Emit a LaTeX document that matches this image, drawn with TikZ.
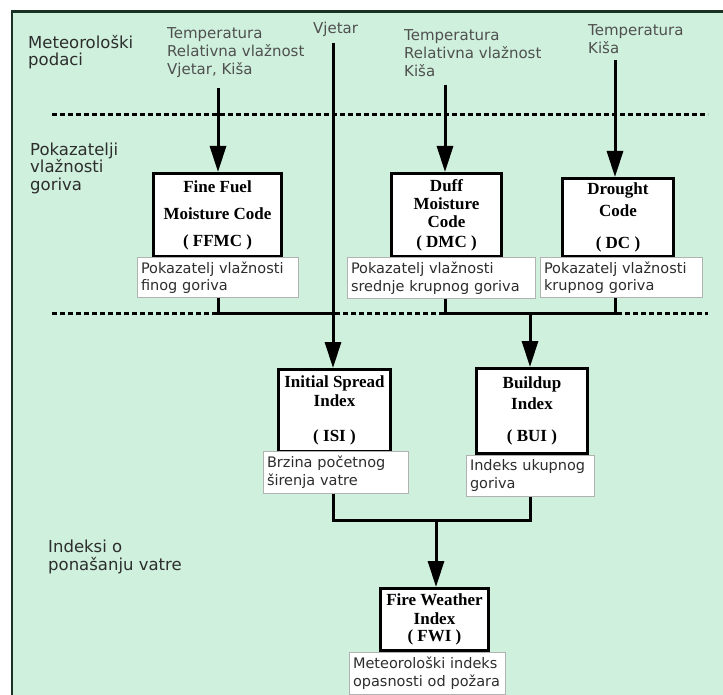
\documentclass[tikz,border=0pt]{standalone}
\usepackage{fontspec}
\setmainfont{DejaVu Sans}
\newfontfamily\boxfont{Liberation Serif}
\usetikzlibrary{arrows.meta, positioning}
\definecolor{bggreen}{RGB}{206,240,220}
\definecolor{framecol}{RGB}{25,50,35}
\definecolor{txtcol}{RGB}{45,45,45}
\definecolor{inputcol}{RGB}{80,80,80}

\tikzset{
  codebox/.style={draw, line width=3pt, fill=white, inner sep=0pt, align=center,
    font=\boxfont\bfseries\fontsize{17}{19}\selectfont,
    execute at begin node={\rule{0pt}{27pt}}},
  labelbox/.style={draw=gray!60, line width=1pt, fill=white, inner xsep=4pt, inner ysep=0pt,
    align=left, text=txtcol, font=\fontsize{14.5}{17.5}\selectfont},
  inputtext/.style={anchor=west, inner sep=0pt, align=left, text=inputcol,
    font=\fontsize{15}{18}\selectfont},
  sectiontext/.style={anchor=west, inner sep=0pt, align=left, text=txtcol,
    font=\fontsize{16.5}{17.5}\selectfont},
  link/.style={line width=3pt},
  arr/.style={line width=3pt, -{Triangle[length=26pt,width=16pt]}},
  sepline/.style={line width=3pt, dash pattern=on 5pt off 3pt}
}

\begin{document}
\begin{tikzpicture}[x=1pt, y=-1pt]
    \useasboundingbox (0,0) rectangle (723,695);
    % Background and frame
    \fill[bggreen] (11,11) rectangle (723,695);
    \draw[framecol, line width=2.5pt] (12,695) -- (12,11.5) -- (723,11.5);

    % Section titles
    \node[sectiontext] (meteo) at (28,52) {Meteorološki\\podaci};
    \node[sectiontext] (moist) at (30,168) {Pokazatelji\\vlažnosti\\goriva};
    \node[sectiontext] (behav) at (48,557) {Indeksi o\\ponašanju vatre};

    % Weather inputs
    \node[inputtext] (in1) at (167,53) {Temperatura\\Relativna vlažnost\\Vjetar, Kiša};
    \node[inputtext] (wind) at (313,29) {Vjetar};
    \node[inputtext] (in2) at (404,53) {Temperatura\\Relativna vlažnost\\Kiša};
    \node[inputtext] (in3) at (588,39) {Temperatura\\Kiša};

    % Separators
    \draw[sepline] (52,115) -- (708,115);
    \draw[sepline] (52,313) -- (218,313);
    \draw[sepline] (335,313) -- (445,313);
    \draw[sepline] (617,313) -- (708,313);

    % Codes and indices
    \node[codebox, minimum width=128pt, minimum height=83pt] (ffmc) at (217.5,215)
        {Fine Fuel\\[8pt]Moisture Code\\[8pt]( FFMC )};
    \node[codebox, minimum width=110pt, minimum height=83pt] (dmc) at (446.5,215)
        {Duff\\[-1pt]Moisture\\[-1pt]Code\\[1pt]( DMC )};
    \node[codebox, minimum width=111pt, minimum height=78pt] (dc) at (618,217.5)
        {Drought\\[3pt]Code\\[13pt]( DC )};
    \node[codebox, minimum width=112pt, minimum height=82pt] (isi) at (334.5,410.5)
        {Initial Spread\\Index\\[16pt]( ISI )};
    \node[codebox, minimum width=111pt, minimum height=85pt] (bui) at (532,411)
        {Buildup\\[2pt]Index\\[13pt]( BUI )};
    \node[codebox, minimum width=108pt, minimum height=62pt] (fwi) at (434.5,619.5)
        {Fire Weather\\[0pt]Index\\[-2pt]( FWI )};

    % Descriptions
    \node[labelbox, text width=153pt, minimum height=39pt] (lffmc) at (217.5,277.5)
        {Pokazatelj vlažnosti\\finog goriva};
    \node[labelbox, text width=180pt, minimum height=40pt] (ldmc) at (441,278)
        {Pokazatelj vlažnosti\\srednje krupnog goriva};
    \node[labelbox, text width=154pt, minimum height=39pt] (ldc) at (621,277.5)
        {Pokazatelj vlažnosti\\krupnog goriva};
    \node[labelbox, text width=137pt, minimum height=42pt] (lisi) at (335.5,472)
        {Brzina početnog\\širenja vatre};
    \node[labelbox, text width=120pt, minimum height=41pt] (lbui) at (530,475.5)
        {Indeks ukupnog\\goriva};
    \node[labelbox, text width=148pt, minimum height=42pt] (lfwi) at (427,673)
        {Meteorološki indeks\\opasnosti od požara};

    % Connectors
    \coordinate (s1) at (218,88);
    \coordinate (s2) at (333,43);
    \coordinate (s3) at (445,85);
    \coordinate (s4) at (615,60);
    \coordinate (j1) at (333,313);
    \coordinate (j2) at (530,313);
    \coordinate (j3) at (436,520);

    \draw[arr] (s1) -- (s1 |- ffmc.north);
    \draw[arr] (s3) -- (s3 |- dmc.north);
    \draw[arr] (s4) -- (s4 |- dc.north);
    \draw[arr] (s2) -- (s2 |- isi.north);
    \draw[link] (s1 |- lffmc.south) |- (j1);
    \draw[link] (s3 |- ldmc.south) |- (j2) -| (s4 |- ldc.south);
    \draw[arr] (j2) -- (j2 |- bui.north);
    \draw[link] (j1 |- lisi.south) |- (j3) -| (j2 |- lbui.south);
    \draw[arr] (j3) -- (j3 |- fwi.north);
\end{tikzpicture}
\end{document}
